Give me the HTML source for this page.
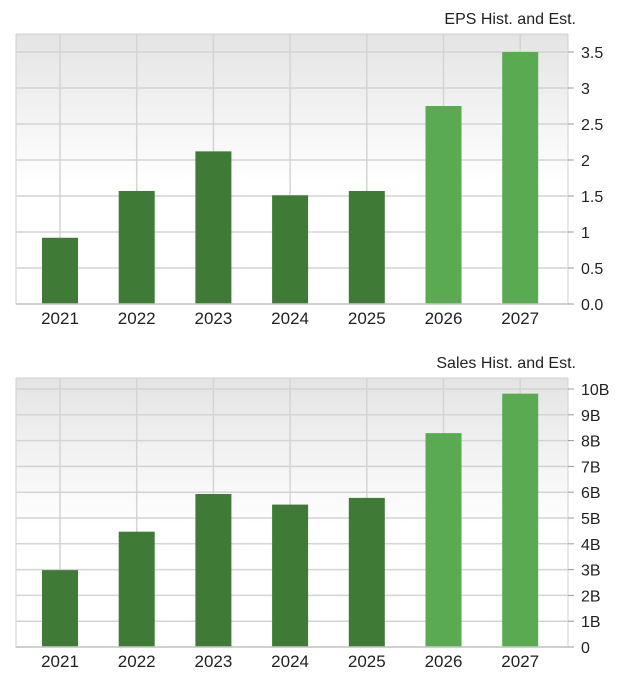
<!DOCTYPE html>
<html><head><meta charset="utf-8"><style>
body{margin:0;background:#fff;width:620px;height:679px;overflow:hidden;font-family:"Liberation Sans",sans-serif;}
svg text{font-family:"Liberation Sans",sans-serif;fill:#222;}
</style></head><body>
<svg id="svg" width="620" height="679">
<defs><linearGradient id="bg" x1="0" y1="0" x2="0" y2="1"><stop offset="0" stop-color="#e4e4e4"/><stop offset="0.55" stop-color="#ffffff"/><stop offset="1" stop-color="#ffffff"/></linearGradient></defs>
</svg>
<script>
const years=["2021","2022","2023","2024","2025","2026","2027"];
const epsValues=[0.92,1.57,2.12,1.51,1.57,2.75,3.5];
const salesValues=[2.98,4.47,5.93,5.52,5.78,8.29,9.82];
const estimateFlags=[false,false,false,false,false,true,true];
const epsTicks=[0,0.5,1,1.5,2,2.5,3,3.5];
const epsTickLabels=["0.0","0.5","1","1.5","2","2.5","3","3.5"];
const salesTicks=[0,1,2,3,4,5,6,7,8,9,10];
const salesTickLabels=["0","1B","2B","3B","4B","5B","6B","7B","8B","9B","10B"];
const NS="http://www.w3.org/2000/svg";
const svg=document.getElementById('svg');
function mk(t,a,p){const e=document.createElementNS(NS,t);for(const k in a)e.setAttribute(k,a[k]);(p||svg).appendChild(e);return e;}
function chart(cfg){
  const g=mk('g',{});
  
  
  const L=16,R=568,T=cfg.top,B=cfg.bottom;
  const y=v=>B-(v/cfg.max)*(B-cfg.maxY);
  const x=i=>60+i*76.7;
  const t=mk('text',{x:576,y:T-10,'text-anchor':'end','font-size':16},g);t.textContent=cfg.title;
  
  const bg=mk('rect',{x:L,y:T,width:R-L,height:B-T,fill:'url(#bg)',stroke:'#d0d0d0'},g);
  
  cfg.ticks.forEach((v,i)=>{
    const gl=mk('line',{x1:L,x2:R,y1:y(v),y2:y(v),stroke:'#d4d4d4','stroke-width':1.5},g);
    
    mk('line',{x1:R,x2:R+6,y1:y(v),y2:y(v),stroke:'#999'},g);
    const tl=mk('text',{x:R+13,y:y(v)+6,'font-size':16},g);tl.textContent=cfg.labels[i];
    
  });
  years.forEach((yr,i)=>{
    mk('line',{x1:x(i),x2:x(i),y1:T,y2:B,stroke:'#d4d4d4','stroke-width':1.5},g);
  });
  years.forEach((yr,i)=>{
    const v=cfg.values[i];
    const b=mk('rect',{x:x(i)-18,y:y(v),width:36,height:B-y(v),fill:estimateFlags[i]?'#5aaa52':'#3f7a37'},g);
    
    const xl=mk('text',{x:x(i),y:B+20,'text-anchor':'middle','font-size':17},g);xl.textContent=yr;
    
  });
  mk('line',{x1:L,x2:R,y1:B,y2:B,stroke:'#c8c8c8','stroke-width':1.5},g);
}
chart({name:'eps-chart',title:'EPS Hist. and Est.',top:34,bottom:304,maxY:52,max:3.5,values:epsValues,ticks:epsTicks,labels:epsTickLabels});
chart({name:'sales-chart',title:'Sales Hist. and Est.',top:378,bottom:647,maxY:389,max:10,values:salesValues,ticks:salesTicks,labels:salesTickLabels});
</script>
</body></html>
